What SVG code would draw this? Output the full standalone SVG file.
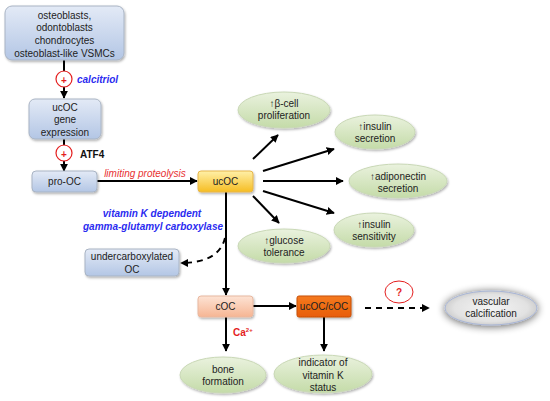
<svg xmlns="http://www.w3.org/2000/svg" width="550" height="401" viewBox="0 0 550 401">
<defs>
<linearGradient id="gBlue" x1="0" y1="0" x2="0" y2="1"><stop offset="0" stop-color="#e3eaf6"/><stop offset="1" stop-color="#b3c6e5"/></linearGradient>
<linearGradient id="gGreen" x1="0" y1="0" x2="0" y2="1"><stop offset="0" stop-color="#eaf2de"/><stop offset="1" stop-color="#c4dba8"/></linearGradient>
<linearGradient id="gGold" x1="0" y1="0" x2="0" y2="1"><stop offset="0" stop-color="#fff0a8"/><stop offset="1" stop-color="#f6bd22"/></linearGradient>
<linearGradient id="gPeach" x1="0" y1="0" x2="0" y2="1"><stop offset="0" stop-color="#fde3d4"/><stop offset="1" stop-color="#f6b593"/></linearGradient>
<linearGradient id="gOrange" x1="0" y1="0" x2="0" y2="1"><stop offset="0" stop-color="#f57a20"/><stop offset="1" stop-color="#e85d05"/></linearGradient>
<radialGradient id="gGrey" cx="0.5" cy="0.5" r="0.5"><stop offset="0" stop-color="#f4f4f4"/><stop offset="0.8" stop-color="#e2e2e2"/><stop offset="1" stop-color="#cfcfcf"/></radialGradient>
<filter id="sh" x="-20%" y="-20%" width="140%" height="150%"><feDropShadow dx="1" dy="1.5" stdDeviation="1" flood-color="#000" flood-opacity="0.3"/></filter>
<filter id="glow" x="-30%" y="-60%" width="160%" height="220%"><feGaussianBlur in="SourceAlpha" stdDeviation="4.5"/><feOffset dx="0" dy="1"/><feComponentTransfer><feFuncA type="linear" slope="0.65"/></feComponentTransfer><feMerge><feMergeNode/><feMergeNode in="SourceGraphic"/></feMerge></filter>
<marker id="ah" viewBox="0 0 10 10" refX="9" refY="5" markerWidth="4" markerHeight="4" orient="auto-start-reverse"><path d="M0,0 L10,5 L0,10 z" fill="#000"/></marker>
</defs>
<style>
text{font-family:"Liberation Sans",Arial,sans-serif;font-size:10px;fill:#222;text-anchor:middle}
.box{fill:url(#gBlue);stroke:#a9b4c4;stroke-width:1;filter:url(#sh)}
.ell{fill:url(#gGreen);stroke:#c9d8b6;stroke-width:1;filter:url(#sh)}
.ln{stroke:#000;stroke-width:2;fill:none;marker-end:url(#ah)}
.dash{stroke:#000;stroke-width:2;fill:none;stroke-dasharray:6,5;marker-end:url(#ah)}
.plus{fill:#fff;stroke:#e41e1e;stroke-width:1.2}
.red{fill:#e41e1e;font-weight:bold}
.blue{fill:#2b2bf0;font-style:italic;font-weight:bold}
.redi{fill:#e83030;font-style:italic}
</style>
<rect width="550" height="401" fill="#fff"/>

<g id="connectors">
<line class="ln" x1="64" y1="60" x2="64" y2="98"/>
<line class="ln" x1="64" y1="139" x2="64" y2="171"/>
<line class="ln" x1="97" y1="181" x2="197" y2="181"/>
<line class="ln" x1="253" y1="159" x2="278" y2="135"/>
<line class="ln" x1="263" y1="171" x2="334" y2="149"/>
<line class="ln" x1="263" y1="181" x2="343" y2="181"/>
<line class="ln" x1="263" y1="191" x2="334" y2="213"/>
<line class="ln" x1="253" y1="196" x2="279" y2="223"/>
<line class="ln" x1="226" y1="192" x2="226" y2="295"/>
<path class="dash" d="M225,238 C221,255 205,263 181,263"/>
<line class="ln" x1="253" y1="306" x2="296" y2="306"/>
<line class="dash" x1="365" y1="308" x2="429" y2="308" stroke-dasharray="5,4"/>
<line class="ln" x1="226" y1="317" x2="226" y2="351"/>
<line class="ln" x1="324" y1="317" x2="324" y2="351"/>
</g>

<g id="plus1"><circle class="plus" cx="64" cy="79" r="8"/><text class="red" x="64" y="84" font-size="14">+</text></g>
<text class="blue" x="77" y="83" style="text-anchor:start">calcitriol</text>
<g id="plus2"><circle class="plus" cx="64" cy="153" r="8"/><text class="red" x="64" y="158" font-size="14">+</text></g>
<text x="80" y="158" style="text-anchor:start;font-weight:bold;fill:#111">ATF4</text>
<text class="redi" x="145" y="177">limiting proteolysis</text>
<text class="blue" x="152" y="217" font-size="9.5">vitamin K dependent</text>
<text class="blue" x="153" y="230" font-size="9.5">gamma-glutamyl carboxylase</text>
<text class="red" x="233" y="336" style="text-anchor:start" font-size="9">Ca<tspan font-size="6" dy="-4">2+</tspan></text>

<g id="cells"><rect class="box" x="5" y="6" width="119" height="54" rx="7"/>
<text x="64.5" y="19">osteoblasts,</text><text x="64.5" y="31">odontoblasts</text><text x="64.5" y="44">chondrocytes</text><text x="64.5" y="57">osteoblast-like VSMCs</text></g>

<g id="ucOCgene"><rect class="box" x="29" y="99" width="72" height="40" rx="6"/>
<text x="65" y="111">ucOC</text><text x="65" y="123">gene</text><text x="65" y="136">expression</text></g>

<g id="proOC"><rect class="box" x="32" y="171" width="65" height="21" rx="4"/><text x="64.5" y="185">pro-OC</text></g>

<g id="ucOC"><rect x="198" y="171" width="55" height="21" rx="3" fill="url(#gGold)" stroke="#e7b64a" filter="url(#sh)"/><text x="225.5" y="185">ucOC</text></g>

<g id="beta"><ellipse class="ell" cx="284" cy="110" rx="46" ry="18"/><text x="284" y="107">↑β-cell</text><text x="284" y="119">proliferation</text></g>
<g id="inssec"><ellipse class="ell" cx="375" cy="132" rx="40" ry="17"/><text x="375" y="130">↑insulin</text><text x="375" y="142">secretion</text></g>
<g id="adipo"><ellipse class="ell" cx="398" cy="181" rx="49" ry="17"/><text x="398" y="180">↑adiponectin</text><text x="398" y="192">secretion</text></g>
<g id="inssens"><ellipse class="ell" cx="374" cy="230" rx="40" ry="17"/><text x="374" y="228">↑insulin</text><text x="374" y="240">sensitivity</text></g>
<g id="glucose"><ellipse class="ell" cx="284" cy="246" rx="46" ry="17"/><text x="284" y="244">↑glucose</text><text x="284" y="256">tolerance</text></g>

<g id="underOC"><rect class="box" x="85" y="249" width="94" height="27" rx="4"/><text x="132" y="260">undercarboxylated</text><text x="132" y="273">OC</text></g>

<g id="cOC"><rect x="198" y="296" width="55" height="21" rx="3" fill="url(#gPeach)" stroke="#e8b8a0" filter="url(#sh)"/><text x="225.5" y="310">cOC</text></g>
<g id="ratio"><rect x="297" y="296" width="54" height="21" rx="2" fill="url(#gOrange)" stroke="#c85008" filter="url(#sh)"/><text x="324" y="310">ucOC/cOC</text></g>

<g id="q"><ellipse cx="399" cy="292" rx="14" ry="11" fill="#fff" stroke="#e41e1e" stroke-width="1"/><text class="red" x="399" y="296" font-size="11">?</text></g>

<g id="vasc"><ellipse cx="491" cy="308" rx="46" ry="17" fill="url(#gGrey)" stroke="#a9b6d6" stroke-width="1" filter="url(#glow)"/><text x="491" y="305">vascular</text><text x="491" y="317">calcification</text></g>

<g id="bone"><ellipse class="ell" cx="223" cy="375" rx="43" ry="18"/><text x="223" y="373">bone</text><text x="223" y="385">formation</text></g>
<g id="indicator"><ellipse class="ell" cx="323" cy="374" rx="49" ry="19"/><text x="323" y="366">indicator of</text><text x="323" y="379">vitamin K</text><text x="323" y="391">status</text></g>
</svg>
